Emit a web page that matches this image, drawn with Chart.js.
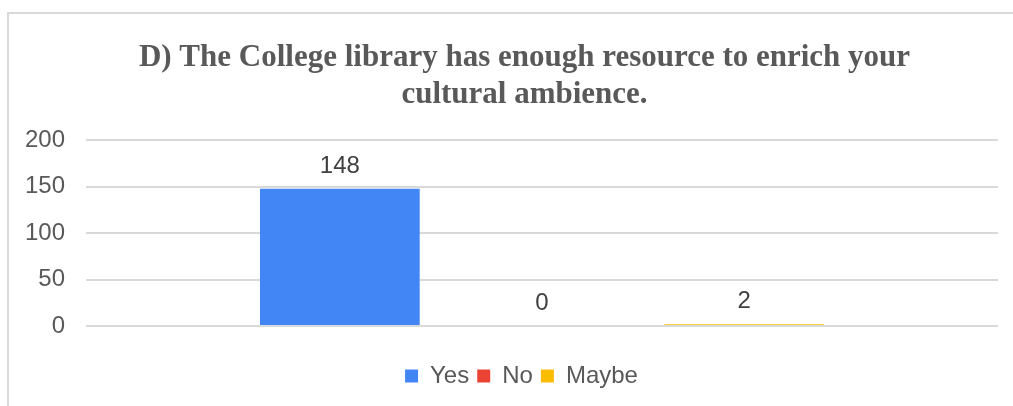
<!DOCTYPE html>
<html>
<head>
<meta charset="utf-8">
<script src="https://cdn.jsdelivr.net/npm/chart.js@4.4.1/dist/chart.umd.min.js"></script>
<style>
    html, body { margin: 0; padding: 0; background: #fff; overflow: hidden; }
    .frame {
        position: absolute;
        left: 7px;
        top: 12px;
        width: 1032px;
        height: 394px;
        border-left: 2px solid #d9d9d9;
        border-top: 2px solid #d9d9d9;
    }
    .frame canvas { display: block; }
</style>
</head>
<body>
<div class="frame">
    <canvas id="surveyChart" width="1032" height="392"></canvas>
</div>
<script>
// values
const categories = [''];
const seriesNames = ['Yes', 'No', 'Maybe'];
const yesValues = [148];
const noValues = [0];
const maybeValues = [2];
const seriesColors = ['#4285F4', '#EA4335', '#FBBC04'];
const yTicks = [0, 50, 100, 150, 200];

const titleLines = [
    'D) The College library has enough resource to enrich your',
    'cultural ambience.'
];

const sansFont = "'Liberation Sans', Arial, sans-serif";

// small plugin to draw the value over each bar
const valueLabels = {
    id: 'valueLabels',
    afterDatasetsDraw: function (chart) {
        const ctx = chart.ctx;
        ctx.save();
        ctx.font = '24px ' + sansFont;
        ctx.fillStyle = '#404040';
        ctx.textAlign = 'center';
        ctx.textBaseline = 'alphabetic';
        chart.data.datasets.forEach(function (ds, i) {
            const meta = chart.getDatasetMeta(i);
            meta.data.forEach(function (bar, j) {
                ctx.fillText(String(ds.data[j]), bar.x, bar.y - 16);
            });
        });
        ctx.restore();
    }
};

// the original frame is wider than the picture, so title and legend sit a bit right of the plot centre
const boxShift = {
    id: 'boxShift',
    afterLayout: function (chart) {
        if (chart.titleBlock) {
            chart.titleBlock.left += 21;
            chart.titleBlock.right += 21;
        }
        if (chart.legend) {
            chart.legend.left += 18;
            chart.legend.right += 18;
        }
    }
};

const ctx = document.getElementById('surveyChart').getContext('2d');
const surveyChart = new Chart(ctx, {
    type: 'bar',
    data: {
        labels: categories,
        datasets: [
            { label: seriesNames[0], data: yesValues, backgroundColor: seriesColors[0] },
            { label: seriesNames[1], data: noValues, backgroundColor: seriesColors[1] },
            { label: seriesNames[2], data: maybeValues, backgroundColor: seriesColors[2] }
        ]
    },
    options: {
        responsive: false,
        animation: false,
        categoryPercentage: 0.665,
        barPercentage: 0.79,
        layout: {
            padding: { top: 0, left: 0, right: 43, bottom: 8 }
        },
        plugins: {
            title: {
                display: true,
                text: titleLines,
                color: '#595959',
                font: { family: "'Liberation Serif', 'Times New Roman', serif", size: 31, weight: 'bold', lineHeight: 1.2 },
                padding: { top: 25, bottom: 27 }
            },
            legend: {
                position: 'bottom',
                labels: {
                    boxWidth: 13,
                    boxHeight: 13,
                    padding: 8,
                    color: '#595959',
                    font: { family: sansFont, size: 24 }
                }
            },
            tooltip: { enabled: false }
        },
        scales: {
            x: {
                grid: { display: false },
                border: { display: false },
                ticks: { display: false },
                afterFit: function (scale) { scale.height = 30; }
            },
            y: {
                min: 0,
                max: 200,
                afterBuildTicks: function (scale) {
                    scale.ticks = yTicks.map(v => ({ value: v }));
                },
                afterFit: function (scale) { scale.width = 77; },
                grid: { color: '#d9d9d9', lineWidth: 2, drawTicks: false },
                border: { display: false },
                ticks: {
                    padding: 21,
                    color: '#595959',
                    font: { family: sansFont, size: 24 }
                }
            }
        }
    },
    plugins: [valueLabels, boxShift]
});
</script>
</body>
</html>
